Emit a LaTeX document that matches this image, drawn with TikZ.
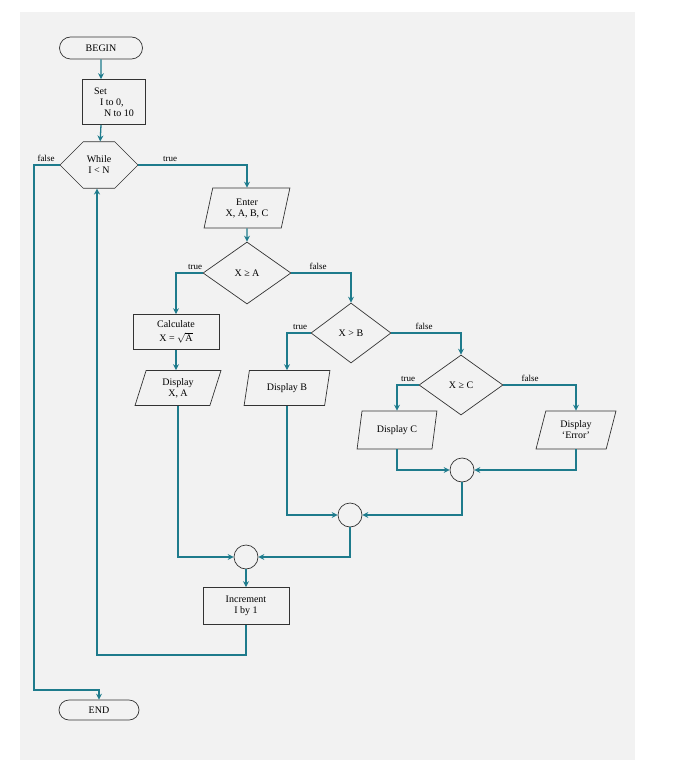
\documentclass[tikz,border=0pt]{standalone}
\usepackage{fontspec}
\setmainfont{Liberation Serif}
\usetikzlibrary{shapes.geometric,shapes.misc,arrows.meta}
\definecolor{ln}{HTML}{1E7B8C}
\begin{document}
\begin{tikzpicture}[x=1pt,y=-1pt,
  base/.style={draw=black!80,line width=0.7pt,font=\fontsize{10}{11}\selectfont,align=center,inner sep=1pt},
  term/.style={base,rounded rectangle,minimum width=85pt,minimum height=22pt},
  proc/.style={base,rectangle,minimum width=86pt,minimum height=36pt},
  io/.style={base,trapezium,trapezium left angle=75,trapezium right angle=105,trapezium stretches=true,minimum width=86pt,minimum height=36pt},
  dec/.style={base,diamond,aspect=1.4,minimum width=88pt,minimum height=62pt},
  hexa/.style={base,chamfered rectangle,chamfered rectangle xsep=10pt,chamfered rectangle ysep=18pt,minimum width=78pt,minimum height=36pt},
  junc/.style={draw=black!80,line width=0.7pt,circle,minimum size=24pt,inner sep=0pt},
  lab/.style={font=\fontsize{9}{10}\selectfont,inner sep=1pt},
  arr/.style={draw=ln,line width=1.3pt,-{Stealth[length=6pt,width=6pt]}},
  con/.style={draw=ln,line width=1.3pt}]
\useasboundingbox (0,0) rectangle (686,770);
\fill[black!5] (20,12) rectangle (635,760);
\node[term] (begin) at (101,48) {BEGIN};
\node[proc,minimum width=63pt,minimum height=45pt,align=left] (set) at (114,102) {Set\\\hspace*{6pt}I to 0,\\\hspace*{10pt}N to 10};
\node[hexa] (while) at (99,165) {While\\I < N};
\node[io,minimum width=86pt,minimum height=40pt] (enter) at (247,208) {Enter\\X, A, B, C};
\node[dec] (d1) at (247,273) {X ≥ A};
\node[proc,minimum height=35pt] (calc) at (176,332) {Calculate\\[3pt]X = $\sqrt{\mathrm{A}}$};
\node[io,minimum height=35pt] (dxa) at (178,388) {Display\\X, A};
\node[dec,minimum width=80pt,minimum height=60pt] (d2) at (351,333) {X > B};
\node[io,minimum height=35pt] (db) at (287,388) {Display B};
\node[dec,minimum width=84pt,minimum height=60pt] (d3) at (461,385) {X ≥ C};
\node[io,minimum width=80pt,minimum height=38pt] (dc) at (397,430) {Display C};
\node[io,minimum width=80pt,minimum height=38pt] (de) at (576,430) {Display\\`Error'};
\node[junc] (j3) at (462,470) {};
\node[junc] (j2) at (350,515) {};
\node[junc] (j1) at (246,557) {};
\node[proc,minimum height=37pt] (inc) at (246,606) {Increment\\I by 1};
\node[term,minimum width=82pt,minimum height=20pt] (end) at (99,710) {END};
\coordinate (c1) at (97,655);
\draw[arr] (begin) -- (set.north -| begin);
\draw[arr] (set.south -| begin) -- (while);
\draw[arr] (while.east) -| (enter.north);
\draw[arr] (while.west) -- (34,165) -- (34,690) -| (end.north);
\draw[arr] (enter) -- (d1);
\draw[arr] (d1.west) -| (calc.north);
\draw[arr] (calc) -- (dxa.north -| calc);
\draw[arr] (d1.east) -| (d2.north);
\draw[arr] (d2.west) -| (db.north);
\draw[arr] (d2.east) -| (d3.north);
\draw[arr] (d3.west) -| (dc.north);
\draw[arr] (d3.east) -| (de.north);
\draw[arr] (dc.south) |- (j3.west);
\draw[arr] (de.south) |- (j3.east);
\draw[arr] (db.south) |- (j2.west);
\draw[arr] (j3.south) |- (j2.east);
\draw[arr] (dxa.south) |- (j1.west);
\draw[arr] (j2.south) |- (j1.east);
\draw[arr] (j1) -- (inc);
\draw[arr] (inc.south) |- (c1) -- (while.south -| c1);
\node[lab,anchor=south] at (46,163) {false};
\node[lab,anchor=south] at (170,163) {true};
\node[lab,anchor=south] at (195,271) {true};
\node[lab,anchor=south] at (318,271) {false};
\node[lab,anchor=south] at (300,331) {true};
\node[lab,anchor=south] at (424,331) {false};
\node[lab,anchor=south] at (408,383) {true};
\node[lab,anchor=south] at (530,383) {false};
\end{tikzpicture}
\end{document}
